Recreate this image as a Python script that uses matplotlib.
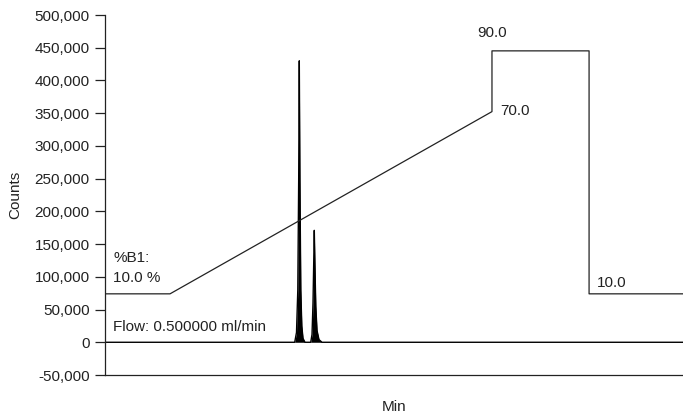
import numpy as np
import matplotlib
matplotlib.use("Agg")
import matplotlib.pyplot as plt
from matplotlib.ticker import FuncFormatter

plt.rcParams["font.family"] = ["Liberation Sans", "DejaVu Sans"]

# chromatogram trace (min, counts)
trace_min = [0.0, 6.564, 6.626, 6.671, 6.702, 6.723, 6.744, 6.775, 6.810, 6.851, 6.920,
             7.118, 7.163, 7.197, 7.225, 7.242, 7.263, 7.294, 7.336, 7.405, 7.509, 20.0]
trace_counts = [0, 0, 15000, 80000, 250000, 430000, 250000, 80000, 25000, 6000, 0,
                0, 12000, 60000, 130000, 171000, 120000, 55000, 18000, 4000, 0, 0]

# %B gradient program (min, %B)
grad_min = [0.0, 2.25, 13.39, 13.39, 16.75, 16.75, 20.0]
grad_pct = [10.0, 10.0, 70.0, 90.0, 90.0, 10.0, 10.0]
# gradient overlay is drawn on the counts axis
grad_offset, grad_scale = 27600, 4640

yticks = list(range(-50000, 500001, 50000))
ink = "#222222"
fs = 11

fig = plt.figure(figsize=(6.83, 4.19), dpi=100)
ax = fig.add_axes([105 / 683, 44 / 419, 578 / 683, 360 / 419])

ax.fill_between(trace_min, trace_counts, 0, color="black", lw=0)
ax.plot(trace_min, trace_counts, color="black", lw=1.0)

grad_y = [grad_offset + grad_scale * p for p in grad_pct]
ax.plot(grad_min, grad_y, color=ink, lw=0.9)

txt = dict(fontsize=fs, color=ink, va="center", ha="left")
ax.text(0.28, 128000, "%B1:", **txt)
ax.text(0.28, 97500, "10.0 %", **txt)
ax.text(0.28, 23000, "Flow: 0.500000 ml/min", **txt)
ax.text(12.87, 472000, "%.1f" % grad_pct[3], **txt)
ax.text(13.67, 353000, "%.1f" % grad_pct[2], **txt)
ax.text(17.02, 90000, "%.1f" % grad_pct[-1], **txt)

ax.set_xlim(0, 20)
ax.set_ylim(-50000, 500000)
ax.set_yticks(yticks)
ax.yaxis.set_major_formatter(FuncFormatter(lambda v, _: f"{int(v):,}"))
ax.set_xticks([])
ax.tick_params(axis="y", direction="out", length=7, width=0.9, color=ink,
               labelsize=fs, labelcolor=ink, pad=4)
for s in ("top", "right"):
    ax.spines[s].set_visible(False)
for s in ("left", "bottom"):
    ax.spines[s].set_color(ink)
    ax.spines[s].set_linewidth(0.9)

ax.set_ylabel("Counts", fontsize=fs, color=ink, labelpad=9)
ax.set_xlabel("Min", fontsize=fs, color=ink, labelpad=18)

fig.savefig("out.png", dpi=100)
